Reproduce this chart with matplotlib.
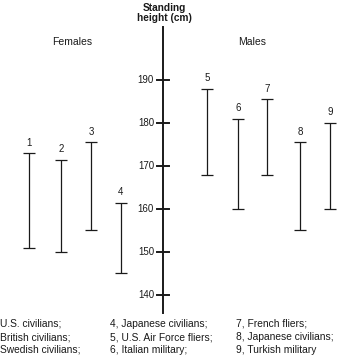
"""Standing height ranges for several populations (range bars around a central scale)."""
import matplotlib
matplotlib.use("Agg")
import matplotlib.pyplot as plt  # noqa: E402

plt.rcParams["font.family"] = ["Liberation Sans", "DejaVu Sans"]

INK = "#1a1a1a"

# groups 1-9, range of standing height (cm)
labels = ["1", "2", "3", "4", "5", "6", "7", "8", "9"]
low = [151, 150, 155, 145, 168, 160, 168, 155, 160]
high = [173, 171.5, 175.5, 161.5, 188, 181, 185.5, 175.5, 180]
yticks = [140, 150, 160, 170, 180, 190]

legend_cols = [
    ["U.S. civilians;", "British civilians;", "Swedish civilians;"],
    ["4, Japanese civilians;", "5, U.S. Air Force fliers;", "6, Italian military;"],
    ["7, French fliers;", "8, Japanese civilians;", "9, Turkish military"],
]

# layout (pixel-like x positions)
XPOS = [29, 61, 91, 121, 207, 238, 267, 300, 330]
AXIS_X = 163

fig = plt.figure(figsize=(3.43, 3.56), dpi=100)
ax = fig.add_axes([0, 0, 1, 1])
ax.set_xlim(0, 343)
# 4.3 px per cm, 190 at 80 px from top
ax.set_ylim(190 - 276 / 4.3, 190 + 80 / 4.3)
ax.axis("off")

# central scale
ax.plot([AXIS_X, AXIS_X], [135.8, 202.4], color=INK, lw=1.4)
for t in yticks:
    ax.plot([AXIS_X - 6, AXIS_X + 6], [t, t], color=INK, lw=1.4)
    ax.text(AXIS_X - 9, t, str(t), ha="right", va="center", fontsize=7, color=INK)

# range bars
for x, lo, hi, lab in zip(XPOS, low, high, labels):
    mid = (lo + hi) / 2
    ax.errorbar(x, mid, yerr=[[mid - lo], [hi - mid]], fmt="none",
                ecolor=INK, elinewidth=0.9, capsize=4, capthick=0.9)
    ax.text(x, hi + 1.3, lab, ha="center", va="bottom", fontsize=7, color=INK)

fig.text(164 / 343, 1 - 13 / 356, "Standing\nheight (cm)", ha="center", va="center",
         fontsize=7.3, fontweight="bold", color=INK, linespacing=1.0)
fig.text(72 / 343, 1 - 42 / 356, "Females", ha="center", va="center", fontsize=7.5, color=INK)
fig.text(252 / 343, 1 - 42 / 356, "Males", ha="center", va="center", fontsize=7.5, color=INK)

col_x = [0, 110, 236]
row_y = [324, 337, 350]
for cx, col in zip(col_x, legend_cols):
    for ry, s in zip(row_y, col):
        fig.text(cx / 343, 1 - ry / 356, s, ha="left", va="center", fontsize=7.4, color=INK)

fig.savefig("out.png", dpi=100)
